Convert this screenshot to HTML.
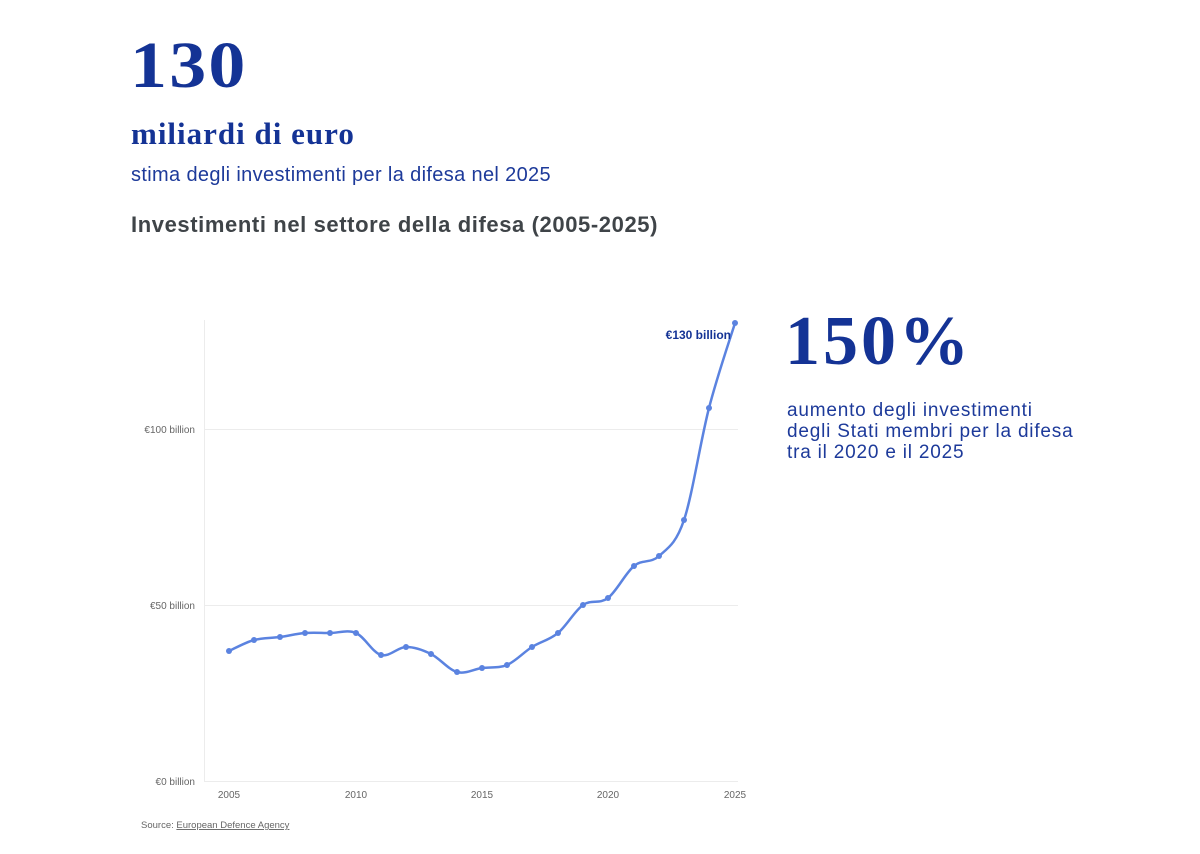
<!DOCTYPE html>
<html><head><meta charset="utf-8"><style>
html,body{margin:0;padding:0;background:#fff;width:1200px;height:854px;overflow:hidden;position:relative;font-family:"Liberation Sans",sans-serif}
.a{position:absolute;white-space:nowrap}
.serif{font-family:"Liberation Serif",serif;font-weight:bold;color:#143395}
</style></head><body>
<div class="a serif" style="left:130px;top:28px;font-size:66px;letter-spacing:2px;transform:scaleX(1.12);transform-origin:left">130</div>
<div class="a serif" style="left:131px;top:116px;font-size:31px;letter-spacing:1px">miliardi di euro</div>
<div class="a" style="left:131px;top:164px;font-size:20px;letter-spacing:0.35px;color:#1d3a9a">stima degli investimenti per la difesa nel 2025</div>
<div class="a" style="left:131px;top:212px;font-size:22px;letter-spacing:0.6px;font-weight:bold;color:#3f4448">Investimenti nel settore della difesa (2005-2025)</div>
<div class="a serif" style="left:785px;top:302px;font-size:70px;letter-spacing:3px">150%</div>
<div class="a" style="left:787px;top:400px;font-size:19px;line-height:21px;letter-spacing:0.8px;color:#1d3a9a">aumento degli investimenti<br>degli Stati membri per la difesa<br>tra il 2020 e il 2025</div>
<svg class="a" style="left:0;top:0" width="1200" height="854">
<g stroke="#ececec" stroke-width="1">
<line x1="204" y1="429.5" x2="738" y2="429.5"/>
<line x1="204" y1="605.5" x2="738" y2="605.5"/>
<line x1="204" y1="781.5" x2="738" y2="781.5"/>
<line x1="204.5" y1="320" x2="204.5" y2="781"/>
</g>
<g font-size="10" fill="#666" font-family="Liberation Sans,sans-serif">
<text x="195" y="433" text-anchor="end">€100 billion</text>
<text x="195" y="609" text-anchor="end">€50 billion</text>
<text x="195" y="785" text-anchor="end">€0 billion</text>
<g text-anchor="middle">
<text x="229" y="798">2005</text><text x="356" y="798">2010</text><text x="482" y="798">2015</text><text x="608" y="798">2020</text><text x="735" y="798">2025</text>
</g>
<text x="141" y="828" font-size="9.5">Source: <tspan text-decoration="underline">European Defence Agency</tspan></text>
</g>
<path id="ln" fill="none" stroke="#5b83e0" stroke-width="2.5"/>
<g id="dots" fill="#5b83e0"></g>
<text x="731" y="339" text-anchor="end" font-size="12" font-weight="bold" fill="#143395" font-family="Liberation Sans,sans-serif">€130 billion</text>
</svg>
<script>
var P=[[229,651],[254,640],[280,637],[305,633],[330,633],[356,633],[381,655],[406,647],[431,654],[457,672],[482,668],[507,665],[532,647],[558,633],[583,605],[608,598],[634,566],[659,556],[684,520],[709,408],[735,323]];
var d="M"+P[0];
for(var i=0;i<P.length-1;i++){var p0=P[Math.max(i-1,0)],p1=P[i],p2=P[i+1],p3=P[Math.min(i+2,P.length-1)];
var c1=[p1[0]+(p2[0]-p0[0])/6,p1[1]+(p2[1]-p0[1])/6],c2=[p2[0]-(p3[0]-p1[0])/6,p2[1]-(p3[1]-p1[1])/6];
d+=" C"+c1+" "+c2+" "+p2;}
document.getElementById("ln").setAttribute("d",d);
var g=document.getElementById("dots"),s="";
P.forEach(function(p){s+='<circle cx="'+p[0]+'" cy="'+p[1]+'" r="3"/>';});
g.innerHTML=s;
</script>
</body></html>
